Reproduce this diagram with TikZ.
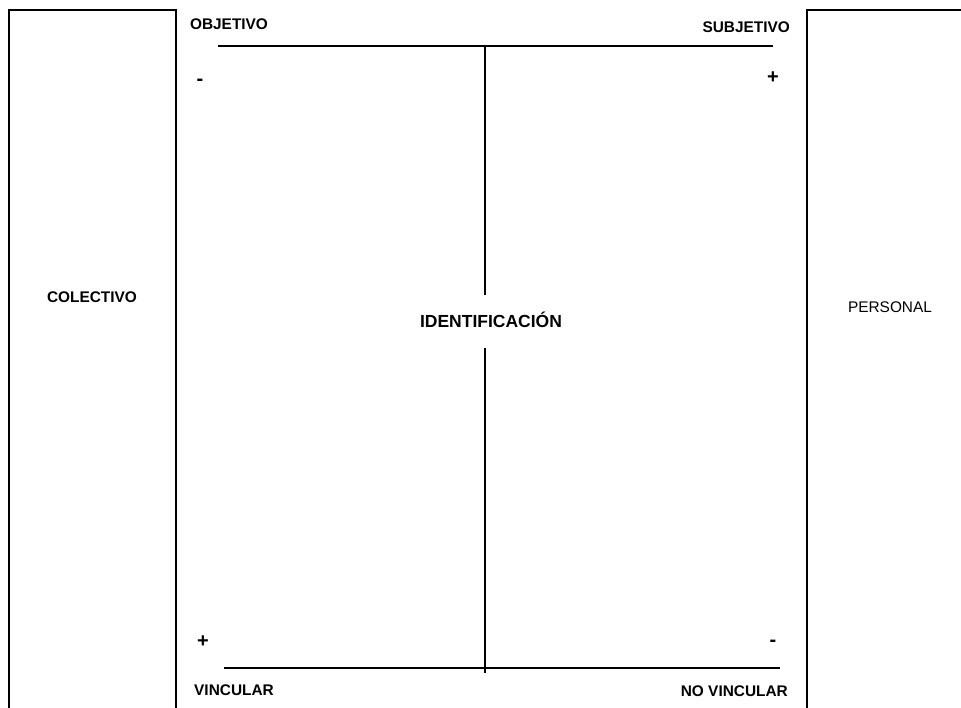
\documentclass[tikz,border=0pt]{standalone}
\usepackage{fontspec}
\setmainfont{Liberation Sans}

\begin{document}
\begin{tikzpicture}[
    x=1pt, y=-1pt,
    every node/.style={text=black, inner sep=0pt},
    label/.style={font=\fontsize{15.4}{18}\selectfont\bfseries, anchor=base},
    plain/.style={font=\fontsize{15.4}{18}\selectfont, anchor=base},
    title/.style={font=\fontsize{17.5}{20}\selectfont\bfseries, anchor=base},
    sign/.style={font=\fontsize{20}{22}\selectfont\bfseries, anchor=base},
    frame/.style={line width=1.4pt, black},
    axis/.style={line width=1.3pt, black}
]
\useasboundingbox (0,0) rectangle (961,708);
% side columns
\draw[frame] (9,708) -- (9,10) -- (176,10) -- (176,708);
\draw[frame] (961,10) -- (807,10) -- (807,708);
\node[label] (colectivo) at (92,303) {COLECTIVO};
\node[plain] (personal) at (890,313) {PERSONAL};
% axes
\coordinate (topL) at (218,46);
\coordinate (topR) at (773,46);
\coordinate (botL) at (224,668);
\coordinate (botR) at (780,668);
\coordinate (vtop) at (485,46);
\coordinate (vgapA) at (485,295);
\coordinate (vgapB) at (485,348);
\coordinate (vbot) at (485,673);
\draw[axis] (topL) -- (topR);
\draw[axis] (botL) -- (botR);
\draw[axis] (vtop) -- (vgapA);
\draw[axis] (vgapB) -- (vbot);
\node[title] (ident) at (491,328) {IDENTIFICACIÓN};
% corner labels
\node[label] (objetivo) at (229,30) {OBJETIVO};
\node[label, anchor=base east] (subjetivo) at (790,33) {SUBJETIVO};
\node[label] (vincular) at (234,695) {VINCULAR};
\node[label, anchor=base east] (novincular) at (788,696) {NO VINCULAR};
\node[sign] (minusTL) at (200,86) {-};
\node[sign] (plusTR) at (773,84) {+};
\node[sign] (plusBL) at (203,647) {+};
\node[sign] (minusBR) at (773,646) {-};
\end{tikzpicture}
\end{document}
